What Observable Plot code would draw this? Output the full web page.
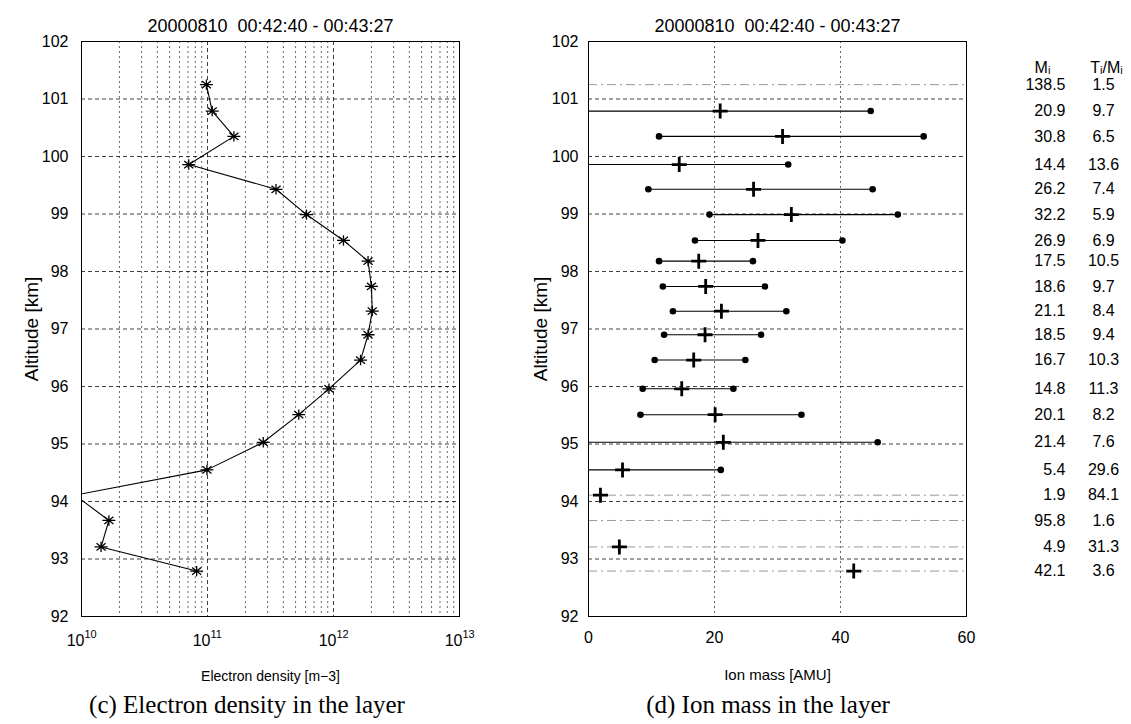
<!DOCTYPE html>
<html><head><meta charset="utf-8">
<script src="https://cdn.jsdelivr.net/npm/d3@7"></script>
<script src="https://cdn.jsdelivr.net/npm/@observablehq/plot@0.6"></script>
<style>
body{margin:0;background:#fff;}
#wrap{position:relative;width:1131px;height:724px;overflow:hidden;background:#fff;}
#left{position:absolute;left:0;top:0;}
#right{position:absolute;left:540px;top:0;}
.cap{position:absolute;top:692px;font-family:"Liberation Serif","Times New Roman",serif;font-size:25px;line-height:25px;white-space:nowrap;transform:translateX(-50%);color:#000;}
</style></head><body>
<div id="wrap"><div id="left"></div><div id="right"></div>
<div class="cap" style="left:247px">(c) Electron density in the layer</div>
<div class="cap" style="left:768px">(d) Ion mass in the layer</div>
</div>
<script>
// ---- data ----
const titleText = "20000810  00:42:40 - 00:43:27";
const altitude = [101.25, 100.79, 100.35, 99.86, 99.43, 98.99, 98.54, 98.18, 97.74, 97.31, 96.90, 96.46, 95.96, 95.51, 95.03, 94.55, 94.11, 93.67, 93.21, 92.79];
const electronDensity = [9.8e10, 1.09e11, 1.62e11, 7.1e10, 3.5e11, 6.1e11, 1.2e12, 1.88e12, 2.0e12, 2.03e12, 1.88e12, 1.64e12, 9.2e11, 5.3e11, 2.77e11, 9.9e10, 8.9e9, 1.65e10, 1.43e10, 8.2e10];
const ionMass = [138.5, 20.9, 30.8, 14.4, 26.2, 32.2, 26.9, 17.5, 18.6, 21.1, 18.5, 16.7, 14.8, 20.1, 21.4, 5.4, 1.9, 95.8, 4.9, 42.1];
const ionMassLow = [null, -1, 11.2, -1, 9.5, 19.2, 16.9, 11.2, 11.8, 13.4, 12.0, 10.5, 8.6, 8.25, -1.5, -7, null, null, null, null];
const ionMassHigh = [null, 44.8, 53.2, 31.7, 45.1, 49.1, 40.3, 26.1, 28.0, 31.4, 27.4, 24.9, 23.0, 33.8, 45.9, 21.0, null, null, null, null];
const tempMassRatio = [1.5, 9.7, 6.5, 13.6, 7.4, 5.9, 6.9, 10.5, 9.7, 8.4, 9.4, 10.3, 11.3, 8.2, 7.6, 29.6, 84.1, 1.6, 31.3, 3.6];
const altitudeTicks = [92, 93, 94, 95, 96, 97, 98, 99, 100, 101, 102];
const densityTicks = [1e10, 1e11, 1e12, 1e13];
const densityExponents = ["10", "11", "12", "13"];
const massTicks = [0, 20, 40, 60];

const rows = altitude.map((a, i) => ({alt: a, ne: electronDensity[i], m: ionMass[i], lo: ionMassLow[i], hi: ionMassHigh[i], tr: tempMassRatio[i]}));
const bounded = rows.filter(d => d.lo != null);
const unbounded = rows.filter(d => d.lo == null);
const densityTickRows = densityTicks.map((v, i) => ({v, e: densityExponents[i]}));

const SANS = "'Liberation Sans', Arial, Helvetica, sans-serif";
const NARROW = "'Liberation Sans Narrow', 'Liberation Sans', Arial, sans-serif";

const asterisk = {draw(ctx, size) {
  const r = Math.sqrt(size / Math.PI), q = r * 0.7;
  ctx.moveTo(-r, 0); ctx.lineTo(r, 0);
  ctx.moveTo(0, -r * 0.8); ctx.lineTo(0, r * 0.8);
  ctx.moveTo(-q, -q * 0.8); ctx.lineTo(q, q * 0.8);
  ctx.moveTo(-q, q * 0.8); ctx.lineTo(q, -q * 0.8);
}};
const plus = {draw(ctx, size) {
  const r = Math.sqrt(size / Math.PI);
  ctx.moveTo(-r, 0); ctx.lineTo(r, 0);
  ctx.moveTo(0, -r); ctx.lineTo(0, r);
}};

const minorX = d3.scaleLog().domain([1e10, 1e13]).ticks().filter(v => Math.abs(Math.log10(v) - Math.round(Math.log10(v))) > 1e-6);
const gridMajor = {stroke: "#000", strokeOpacity: 0.75, strokeDasharray: "4,3", strokeWidth: 1};
const gridMinor = {stroke: "#000", strokeOpacity: 0.6, strokeDasharray: "2,3", strokeWidth: 1};
const titleStyle = {frameAnchor: "top", dy: -22, textAnchor: "middle", fontFamily: SANS, fontSize: 18, letterSpacing: "0.5px"};
const ylabelStyle = {frameAnchor: "left", textAnchor: "middle", rotate: -90, fontFamily: SANS, fontSize: 19, letterSpacing: "0.4px"};

const left = Plot.plot({
  width: 540, height: 688,
  marginLeft: 81, marginRight: 81, marginTop: 41, marginBottom: 72,
  style: {fontFamily: NARROW, fontSize: "16px", color: "#000", background: "white", overflow: "visible"},
  x: {type: "log", domain: [1e10, 1e13], axis: null},
  y: {domain: [92, 102], ticks: altitudeTicks, tickFormat: d => String(d), tickSize: 0, tickPadding: 13, label: null},
  marks: [
    Plot.ruleX(minorX, gridMinor),
    Plot.ruleX(densityTicks, gridMajor),
    Plot.ruleY(altitudeTicks, gridMajor),
    Plot.frame({stroke: "#000", strokeWidth: 1}),
    Plot.line(rows, {x: "ne", y: "alt", stroke: "#000", strokeWidth: 1.1, clip: true}),
    Plot.dot(rows, {x: "ne", y: "alt", symbol: asterisk, r: 6.5, fill: "none", stroke: "#000", strokeWidth: 1.3, clip: true}),
    Plot.text(densityTickRows, {x: "v", text: () => "10", frameAnchor: "bottom", dy: 29, dx: 3, textAnchor: "end", fontFamily: NARROW, fontSize: 16}),
    Plot.text(densityTickRows, {x: "v", text: "e", frameAnchor: "bottom", dy: 21, dx: 3, textAnchor: "start", fontFamily: NARROW, fontSize: 11}),
    Plot.text([titleText], {text: d => d, ...titleStyle}),
    Plot.text(["Altitude [km]"], {text: d => d, dx: -50, ...ylabelStyle}),
    Plot.text(["Electron density [m−3]"], {text: d => d, frameAnchor: "bottom", dy: 64, textAnchor: "middle", fontFamily: SANS, fontSize: 14})
  ]
});
document.getElementById("left").appendChild(left);

const right = Plot.plot({
  width: 591, height: 688,
  marginLeft: 48, marginRight: 165, marginTop: 41, marginBottom: 72,
  style: {fontFamily: NARROW, fontSize: "16px", color: "#000", background: "white", overflow: "visible"},
  x: {domain: [0, 60], ticks: massTicks, tickSize: 0, tickPadding: 15, label: null},
  y: {domain: [92, 102], ticks: altitudeTicks, tickFormat: d => String(d), tickSize: 0, tickPadding: 10, label: null},
  marks: [
    Plot.ruleX(massTicks, gridMinor),
    Plot.ruleY(altitudeTicks, gridMajor),
    Plot.ruleY(unbounded, {y: "alt", stroke: "#777", strokeOpacity: 0.75, strokeDasharray: "9,4,2,4", strokeWidth: 1}),
    Plot.link(bounded, {x1: "lo", x2: "hi", y1: "alt", y2: "alt", stroke: "#000", strokeWidth: 1.1, clip: true}),
    Plot.dot(bounded, {x: "lo", y: "alt", r: 3.3, fill: "#000", stroke: "none", clip: true}),
    Plot.dot(bounded, {x: "hi", y: "alt", r: 3.3, fill: "#000", stroke: "none", clip: true}),
    Plot.dot(rows, {x: "m", y: "alt", symbol: plus, r: 7.5, fill: "none", stroke: "#000", strokeWidth: 2.8, clip: true}),
    Plot.frame({stroke: "#000", strokeWidth: 1}),
    Plot.text([titleText], {text: d => d, ...titleStyle}),
    Plot.text(["Altitude [km]"], {text: d => d, dx: -48, ...ylabelStyle}),
    Plot.text(["Ion mass [AMU]"], {text: d => d, frameAnchor: "bottom", dy: 63, textAnchor: "middle", fontFamily: SANS, fontSize: 15}),
    Plot.text(["Mᵢ"], {text: d => d, frameAnchor: "top-right", dx: 76, dy: 20, textAnchor: "middle", fontFamily: SANS, fontSize: 16}),
    Plot.text(["Tᵢ/Mᵢ"], {text: d => d, frameAnchor: "top-right", dx: 140, dy: 20, textAnchor: "middle", fontFamily: SANS, fontSize: 16}),
    Plot.text(rows, {y: "alt", text: d => d.m.toFixed(1), frameAnchor: "right", dx: 99, textAnchor: "end", fontFamily: SANS, fontSize: 16}),
    Plot.text(rows, {y: "alt", text: d => d.tr.toFixed(1), frameAnchor: "right", dx: 137, textAnchor: "middle", fontFamily: SANS, fontSize: 16})
  ]
});
document.getElementById("right").appendChild(right);
</script>
</body></html>
